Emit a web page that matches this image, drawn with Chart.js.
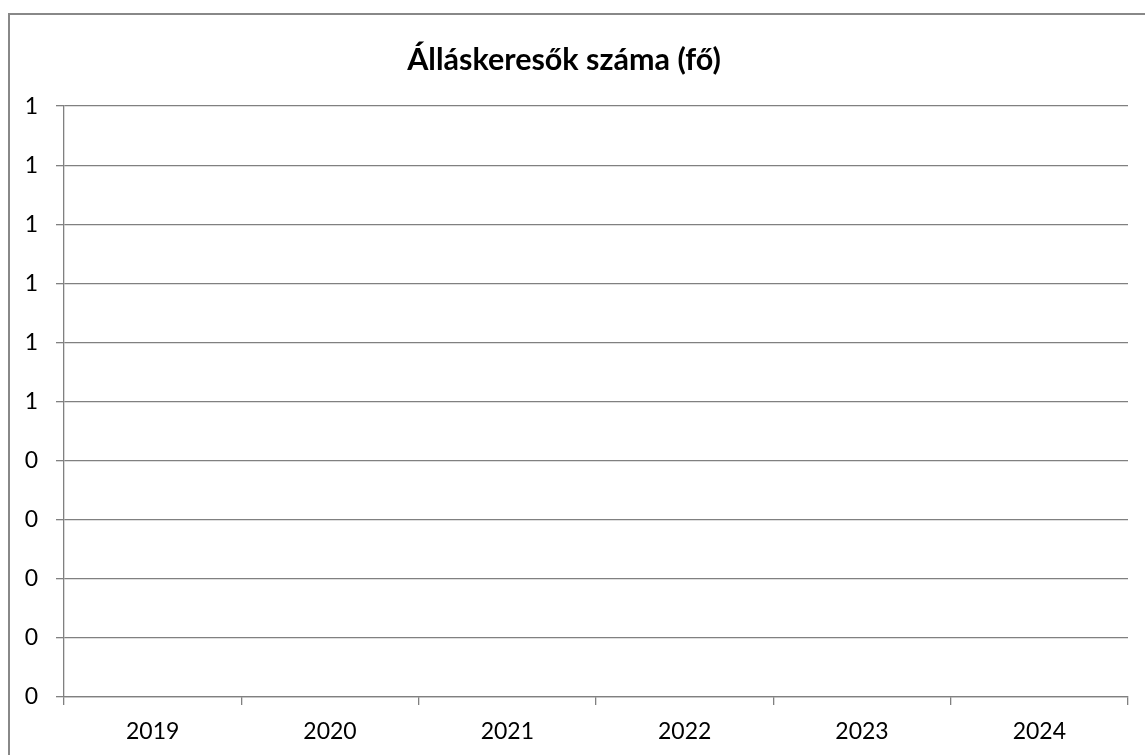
<!DOCTYPE html>
<html>
<head>
<meta charset="utf-8">
<script src="https://cdn.jsdelivr.net/npm/chart.js@4"></script>
<style>
  body { margin: 0; background: #fff; }
  #frame { position: absolute; left: 8px; top: 13px; width: 1200px; height: 800px; border: 2px solid #888; box-sizing: border-box; }
  #wrap { position: absolute; left: 0; top: 0; width: 1145px; height: 755px; }
</style>
</head>
<body>
<div id="frame"></div>
<div id="wrap"><canvas id="mainChart"></canvas></div>
<script>
// categories and (empty) series
const years = ['2019', '2020', '2021', '2022', '2023', '2024'];
const jobSeekers = [null, null, null, null, null, null];
const chartTitle = 'Álláskeresők száma (fő)';

const gridColor = '#808080';
const font = 'Lato, "Open Sans", sans-serif';

const ctx = document.getElementById('mainChart').getContext('2d');
new Chart(ctx, {
  type: 'line',
  data: {
    labels: years,
    datasets: [{
      label: chartTitle,
      data: jobSeekers,
      borderColor: '#4472c4',
      backgroundColor: '#4472c4'
    }]
  },
  options: {
    responsive: true,
    maintainAspectRatio: false,
    animation: false,
    layout: { padding: { left: 0, right: 17, top: 0, bottom: 0 } },
    plugins: {
      legend: { display: false },
      tooltip: { enabled: false },
      title: {
        display: true,
        text: chartTitle,
        color: '#000',
        font: { family: font, size: 30.5, weight: 'bold' },
        padding: { top: 42, bottom: 27.5 }
      }
    },
    scales: {
      x: {
        offset: true,
        grid: {
          offset: true,
          drawOnChartArea: false,
          drawTicks: true,
          tickLength: 8,
          color: gridColor,
          lineWidth: 1.3
        },
        border: { color: gridColor, width: 1.3 },
        ticks: { color: '#000', padding: 13, font: { family: font, size: 23 } },
        afterFit: s => { s.height = 58; }
      },
      y: {
        min: 0,
        max: 1,
        grid: { color: gridColor, tickLength: 8, lineWidth: 1.3 },
        border: { color: gridColor, width: 1.3 },
        ticks: {
          stepSize: 0.1,
          color: '#000',
          padding: 18,
          font: { family: font, size: 23 },
          callback: v => Math.round(v).toString()
        },
        afterFit: s => { s.width = 64; }
      }
    }
  }
});
</script>
</body>
</html>
